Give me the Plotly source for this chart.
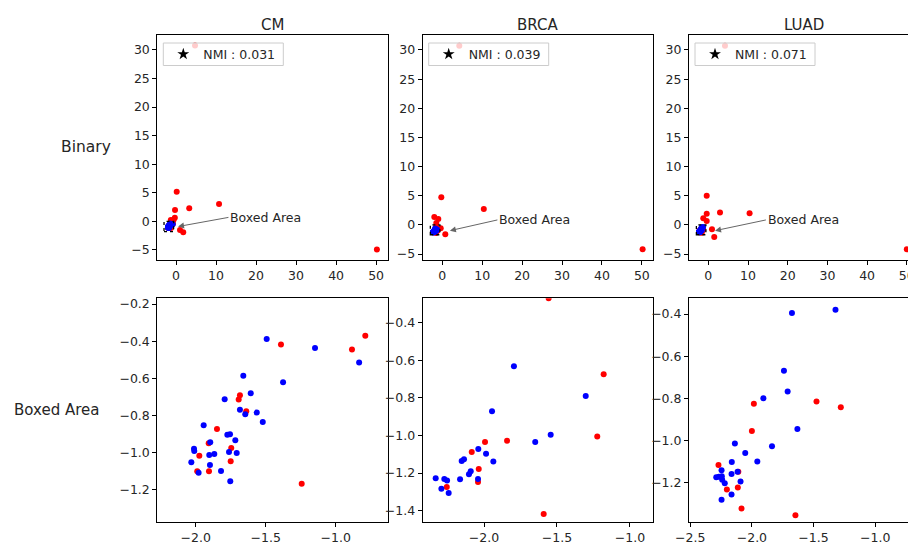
import plotly.graph_objects as go

# ---------------- data ----------------
datasets = ["CM", "BRCA", "LUAD"]
nmi_labels = ["NMI : 0.031", "NMI : 0.039", "NMI : 0.071"]

# CM
cm_red_x = [-0.789, -0.884, -1.391, -1.684, -1.693, -1.639, -1.848, -1.907, -1.746, -1.974, -1.75, -1.989, -1.905, -1.243,
            0.17, -0.25, 3.3, 10.75, 50.2, 1.0, 1.8, 4.75, -0.3, -1.3, -0.6]
cm_red_y = [-0.37, -0.444, -0.417, -0.691, -0.714, -0.777, -0.872, -0.949, -0.974, -1.016, -1.046, -1.1, -1.1, -1.166,
            5.2, 2.0, 2.3, 3.05, -4.9, -1.5, -1.9, 30.75, 0.65, 0.25, 0.3]
cm_blue_x = [-1.493, -1.148, -0.833, -1.66, -1.376, -1.607, -1.793, -1.684, -1.646, -1.564, -1.521, -1.943, -1.774, -1.755,
             -1.717, -1.896, -2.012, -2.01, -1.762, -1.707, -1.903, -1.867, -2.031, -1.898, -1.979, -1.819, -1.753]
cm_blue_y = [-0.388, -0.437, -0.515, -0.585, -0.621, -0.68, -0.712, -0.768, -0.793, -0.784, -0.834, -0.852, -0.903, -0.9,
             -0.933, -0.944, -0.978, -0.99, -0.996, -1.001, -1.012, -1.006, -1.051, -1.066, -1.107, -1.098, -1.153]

# BRCA
brca_red_x = [-1.557, -1.18, -1.224, -1.842, -1.993, -2.084, -2.036, -2.041, -2.255, -1.591,
              4.26, -0.25, 10.4, 50.2, 0.75, -2.0, -1.0, -0.4, -1.5]
brca_red_y = [-0.27, -0.674, -1.006, -1.028, -1.035, -1.088, -1.178, -1.247, -1.274, -1.418,
              30.74, 4.73, 2.73, -4.2, -1.6, 1.35, 1.0, -0.6, 0.3]
brca_blue_x = [-1.795, -1.303, -1.945, -1.543, -1.649, -2.039, -1.986, -1.936, -2.137, -2.153, -2.091, -2.103, -2.331,
               -2.272, -2.253, -2.164, -2.041, -2.292, -2.242]
brca_blue_y = [-0.632, -0.79, -0.871, -0.996, -1.035, -1.072, -1.097, -1.139, -1.127, -1.136, -1.19, -1.206, -1.228,
               -1.231, -1.24, -1.233, -1.231, -1.283, -1.306]

# LUAD
luad_red_x = [-1.984, -1.476, -1.279, -2.0, -2.271, -2.11, -2.203, -2.114, -2.084, -1.647,
              4.2, -0.4, -0.4, 2.95, 10.4, -1.26, -0.4, 0.93, 1.5, 50.0]
luad_red_y = [-0.826, -0.816, -0.843, -0.956, -1.118, -1.15, -1.234, -1.224, -1.324, -1.357,
              30.74, 5.0, 1.9, 2.1, 2.0, 1.13, 0.67, -0.75, -2.1, -4.2]
luad_blue_x = [-1.675, -1.322, -1.74, -1.71, -1.907, -1.631, -2.138, -1.837, -2.054, -2.163, -1.956, -2.246, -2.165,
               -2.116, -2.289, -2.268, -2.244, -2.241, -2.22, -2.092, -2.165, -2.246]
luad_blue_y = [-0.395, -0.38, -0.669, -0.768, -0.8, -0.947, -1.015, -1.029, -1.06, -1.103, -1.101, -1.143, -1.16,
               -1.15, -1.176, -1.173, -1.171, -1.188, -1.204, -1.196, -1.258, -1.283]

red_x = [cm_red_x, brca_red_x, luad_red_x]
red_y = [cm_red_y, brca_red_y, luad_red_y]
blue_x = [cm_blue_x, brca_blue_x, luad_blue_x]
blue_y = [cm_blue_y, brca_blue_y, luad_blue_y]

# boxed area outlines (top row) and arrow annotation points
box_x = [[-3.0, -0.6], [-3.0, -0.6], [-3.0, -0.6]]
box_y = [[-1.8, 0.0], [-1.7, 0.0], [-1.7, 0.0]]
arrow_head = [(0.5, -0.9), (1.9, -1.0), (1.7, -1.0)]
arrow_text = [(13.1, 0.7), (13.8, 0.84), (14.5, 0.84)]

# axis ranges and ticks
top_xrange = [[-4.68, 52.9], [-4.91, 52.8], [-4.86, 50.3]]
top_yrange = [[-6.75, 32.6], [-6.03, 32.57], [-6.03, 32.57]]
top_xticks = [0, 10, 20, 30, 40, 50]
top_yticks = [-5, 0, 5, 10, 15, 20, 25, 30]
bot_xrange = [[-2.274, -0.629], [-2.42, -0.842], [-2.51, -0.734]]
bot_yrange = [[-1.374, -0.169], [-1.462, -0.27], [-1.39, -0.325]]
bot_xticks = [[-2.0, -1.5, -1.0], [-2.0, -1.5, -1.0], [-2.5, -2.0, -1.5, -1.0]]
bot_yticks = [[-1.2, -1.0, -0.8, -0.6, -0.4, -0.2], [-1.4, -1.2, -1.0, -0.8, -0.6, -0.4],
              [-1.4, -1.2, -1.0, -0.8, -0.6, -0.4]]

# ---------------- layout geometry (screen px) ----------------
OFF = 0.0
W, H = 908, 542
col_px = [(157.3, 387.7), (422.7, 653.0), (689.0, 908.0)]
top_px = (35.0, 260.0)
bot_px = (298.3, 522.3)

FONT = "DejaVu Sans"
TXT = "#262626"


def px_x(p):
    return (p - OFF) / W


def px_y(p):
    return 1 - (p - OFF) / H


fig = go.Figure()
layout = dict(
    width=W, height=H, margin=dict(l=0, r=0, t=0, b=0, autoexpand=False),
    paper_bgcolor="white", plot_bgcolor="white",
    font=dict(family=FONT, size=12.5, color=TXT),
    showlegend=True,
)

ann = []
shapes = []
for i in range(3):
    t_ax = 2 * i + 1
    b_ax = 2 * i + 2
    for ax_i, rowpx, xr, yr, xt, yt, fmt in [
        (t_ax, top_px, top_xrange[i], top_yrange[i], top_xticks, top_yticks, None),
        (b_ax, bot_px, bot_xrange[i], bot_yrange[i], bot_xticks[i], bot_yticks[i], ".1f"),
    ]:
        xname = "xaxis" if ax_i == 1 else f"xaxis{ax_i}"
        yname = "yaxis" if ax_i == 1 else f"yaxis{ax_i}"
        common = dict(showgrid=False, zeroline=False, showline=True, linecolor="black", linewidth=1,
                      ticks="outside", ticklen=4, tickwidth=1, tickcolor="black", automargin=False,
                      ticklabeloverflow="allow",
                      tickfont=dict(family=FONT, size=12.5, color=TXT))
        xa = dict(common, domain=[px_x(col_px[i][0]), min(px_x(col_px[i][1]), 1.0)], range=xr,
                  tickvals=xt, mirror=True, anchor=f"y{ax_i}" if ax_i > 1 else "y")
        ya = dict(common, domain=[px_y(rowpx[1]), px_y(rowpx[0])], range=yr, tickvals=yt,
                  mirror=(i < 2), anchor=f"x{ax_i}" if ax_i > 1 else "x")
        if fmt:
            xa["tickformat"] = fmt
            ya["tickformat"] = fmt
        layout[xname] = xa
        layout[yname] = ya

        xref = "x" if ax_i == 1 else f"x{ax_i}"
        yref = "y" if ax_i == 1 else f"y{ax_i}"
        fig.add_trace(go.Scatter(x=red_x[i], y=red_y[i], mode="markers", xaxis=xref, yaxis=yref,
                                 marker=dict(color="#ff0000", size=6), showlegend=False, hoverinfo="skip"))
        fig.add_trace(go.Scatter(x=blue_x[i], y=blue_y[i], mode="markers", xaxis=xref, yaxis=yref,
                                 marker=dict(color="#0000ff", size=6), showlegend=False, hoverinfo="skip"))

    txref = "x" if t_ax == 1 else f"x{t_ax}"
    tyref = "y" if t_ax == 1 else f"y{t_ax}"

    # legend (NMI) : frame drawn as a shape, entry as a real legend
    lg = "legend" if i == 0 else f"legend{i + 1}"
    fig.add_trace(go.Scatter(x=[None], y=[None], mode="markers", xaxis=txref, yaxis=tyref,
                             marker=dict(symbol="star", color="black", size=9),
                             name=nmi_labels[i], legend=lg, showlegend=True))
    lx0 = col_px[i][0] + 6
    layout[lg] = dict(x=px_x(lx0), y=px_y(54.5), xanchor="left", yanchor="middle",
                      bgcolor="rgba(0,0,0,0)", borderwidth=0,
                      font=dict(family=FONT, size=12.5, color=TXT), tracegroupgap=0)
    shapes.append(dict(type="rect", xref="paper", yref="paper", layer="above",
                       x0=px_x(lx0), x1=px_x(lx0 + 120), y0=px_y(65.5), y1=px_y(43),
                       fillcolor="rgba(255,255,255,0.8)", line=dict(color="#cccccc", width=1)))

    # dotted box on top panel
    shapes.append(dict(type="rect", xref=txref, yref=tyref, x0=box_x[i][0], x1=box_x[i][1],
                       y0=box_y[i][0], y1=box_y[i][1], line=dict(color="black", width=1.3, dash="dot")))
    # arrow annotation
    ann.append(dict(xref=txref, yref=tyref, axref=txref, ayref=tyref,
                    x=arrow_head[i][0], y=arrow_head[i][1], ax=arrow_text[i][0], ay=arrow_text[i][1],
                    text="Boxed Area", showarrow=True, arrowhead=2, arrowsize=1.2, arrowwidth=1,
                    arrowcolor="#666666", xanchor="left", yanchor="middle",
                    font=dict(family=FONT, size=12.5, color=TXT)))
    # column titles
    cx = col_px[i][0] + 115.2
    ann.append(dict(xref="paper", yref="paper", x=px_x(cx), y=px_y(25), text=datasets[i], showarrow=False,
                    xanchor="center", yanchor="middle", font=dict(family=FONT, size=15, color=TXT)))

ann.append(dict(xref="paper", yref="paper", x=px_x(86), y=px_y(147), text="Binary", showarrow=False,
                xanchor="center", yanchor="middle", font=dict(family=FONT, size=15.5, color=TXT)))
ann.append(dict(xref="paper", yref="paper", x=px_x(56), y=px_y(410), text="Boxed Area", showarrow=False,
                xanchor="center", yanchor="middle", font=dict(family=FONT, size=15, color=TXT)))

layout["annotations"] = ann
layout["shapes"] = shapes
fig.update_layout(**layout)
fig.write_html("out.html", config={"displayModeBar": False},
               post_script="document.body.style.margin='0';document.body.style.overflow='hidden';")
